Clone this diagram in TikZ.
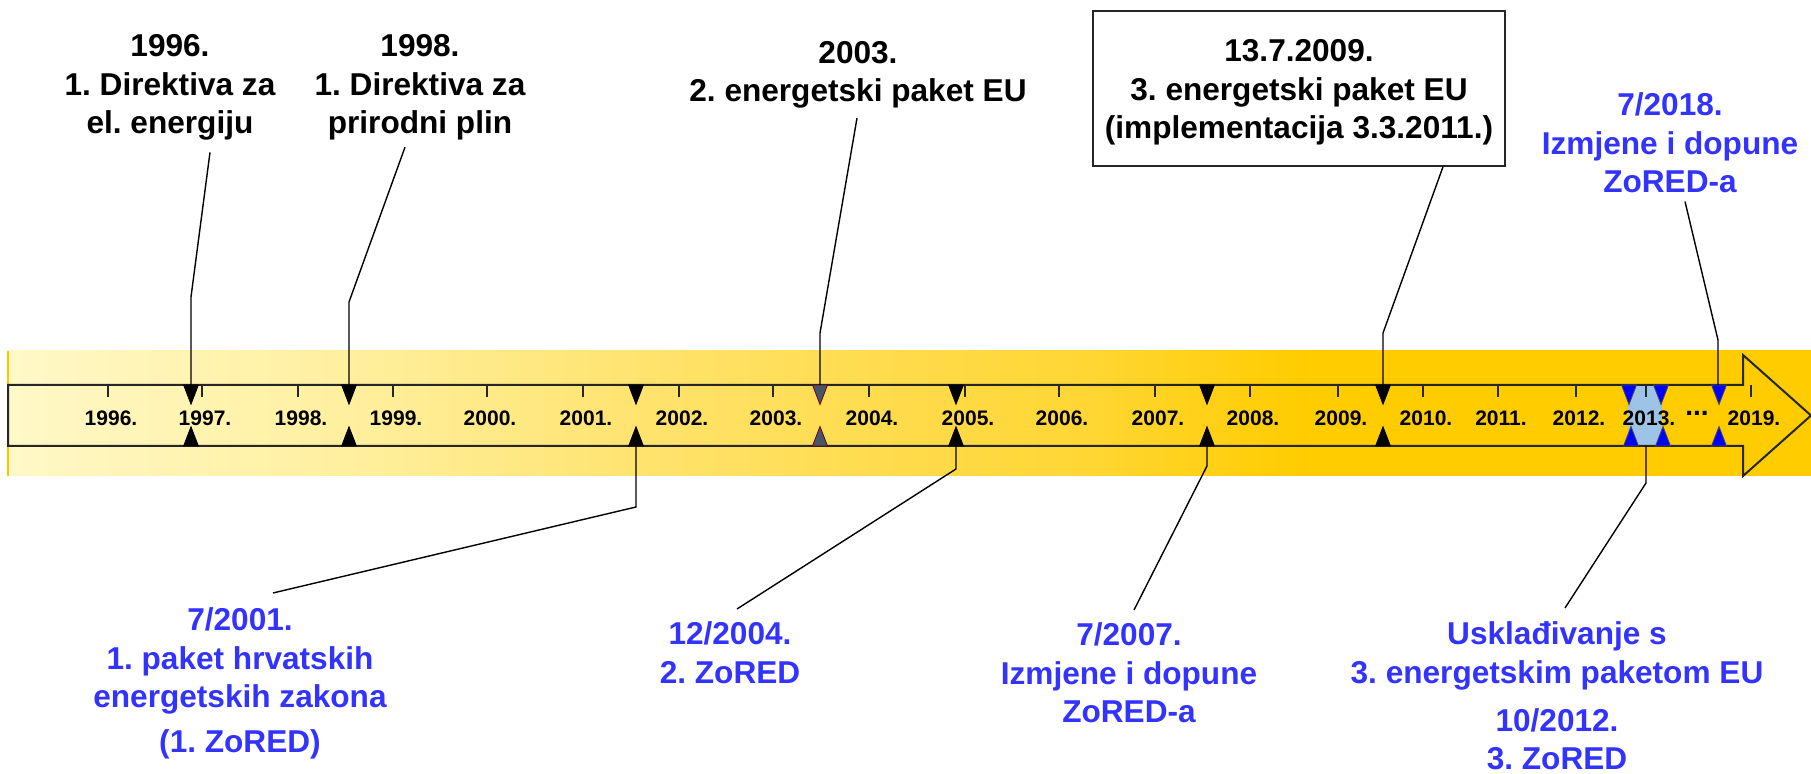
\documentclass[tikz,border=0pt]{standalone}
\usepackage{fontspec}
\setmainfont{Liberation Sans}
\frenchspacing
\usetikzlibrary{calc}
\definecolor{tblue}{HTML}{3333FF}
\definecolor{mblue}{HTML}{0000FF}
\definecolor{slate}{HTML}{46566B}
\definecolor{lblue}{HTML}{9DC3E6}
\definecolor{bz}{HTML}{FFF8C8}
\definecolor{ba}{HTML}{FFEF9C}
\definecolor{bb}{HTML}{FFE166}
\definecolor{bc}{HTML}{FFD633}
\definecolor{bd}{HTML}{FFCC00}
\pgfdeclarehorizontalshading{bandshade}{100bp}{color(0bp)=(bz); color(25bp)=(bz); color(35bp)=(ba); color(44bp)=(bb); color(55bp)=(bc); color(61bp)=(bd); color(75bp)=(bd); color(100bp)=(bd)}
\tikzset{
  big/.style={font=\bfseries\fontsize{15.8}{19.25}\selectfont\frenchspacing, align=center, inner sep=0pt, anchor=north},
  blk/.style={big, text=black},
  blu/.style={big, text=tblue},
  yr/.style={font=\bfseries\fontsize{10.5}{12}\selectfont, inner sep=0pt, text=black},
  conn/.style={line width=0.7pt, black},
  yeartick/.style={line width=0.7pt, black!85},
  outline/.style={line width=1pt, black!85, line join=miter},
  tdown/.pic={\path[pic actions] (-7.5,0) -- (7.5,0) -- (0,19.5) -- cycle;},
  tup/.pic={\path[pic actions] (-7.5,0) -- (7.5,0) -- (0,-19.5) -- cycle;},
  mblack/.style={fill=black, draw=black, line width=0.3pt},
  mslate/.style={fill=slate, draw=red!45!black, line width=0.4pt},
  mblu/.style={fill=mblue, draw=black!70, line width=0.4pt},
}
\begin{document}
\begin{tikzpicture}[x=0.5pt, y=-0.5pt]
\useasboundingbox (0,0) rectangle (1811,774);
% band
\shade[shading=bandshade] (8,351) rectangle (1811,476);
\draw[line width=1pt, color=bd!90!orange] (8,351) -- (8,476);
% highlighted 2013 region
\fill[lblue] (1628,385) rectangle (1662,446);
% arrow
\draw[outline] (8,385) -- (1743,385) -- (1743,355) -- (1811,415.5) -- (1743,476) -- (1743,446) -- (8,446) -- cycle;
% ticks and year labels
\foreach \x/\yy in {108/1996,202/1997,298/1998,393/1999,487/2000,583/2001,679/2002,773/2003,869/2004,965/2005,1059/2006,1155/2007,1250/2008,1338/2009,1423/2010,1498/2011,1576/2012,1646/2013,1751/2019}{
  \draw[yeartick] (\x,385) -- (\x,397);
  \node[yr] (y\yy) at (\x+3,418) {\yy.};
}
\node[font=\bfseries\fontsize{14}{15}\selectfont, inner sep=0pt] (dots) at (1697,413) {...};
% markers
\foreach \x in {191,349,636,956,1207,1383}{
  \pic[mblack] at (\x,385) {tdown};
  \pic[mblack] at (\x,446) {tup};
}
\pic[mslate] at (820,385) {tdown};
\pic[mslate] at (820,446) {tup};
\pic[mblu] at (1629,385) {tdown};
\pic[mblu] at (1661,385) {tdown};
\pic[mblu] at (1719,385) {tdown};
\pic[mblu] at (1631,446) {tup};
\pic[mblu] at (1663,446) {tup};
\pic[mblu] at (1719,446) {tup};
% marker anchor points
\coordinate (m97) at (191,385);
\coordinate (m98) at (349,385);
\coordinate (m03) at (820,385);
\coordinate (m09) at (1383,385);
\coordinate (m18) at (1718,385);
\coordinate (m01) at (636,446);
\coordinate (m05) at (956,446);
\coordinate (m07) at (1207,446);
\coordinate (m13) at (1646,446);
% top texts
\node[blk] (t96) at (170,34.4) {1996.\\1. Direktiva za\\el. energiju};
\node[blk] (t98) at (420,34.4) {1998.\\1. Direktiva za\\prirodni plin};
\node[blk] (t03) at (858,41) {2003.\\2. energetski paket EU};
\node[draw, line width=0.8pt, black!85, minimum width=206pt, minimum height=77.5pt, inner sep=0pt] (frame) at (1299,88.5) {};
\node[blk] (t09) at (1299,39.5) {13.7.2009.\\3. energetski paket EU\\(implementacija 3.3.2011.)};
\node[blu] (t18) at (1670,92.5) {7/2018.\\Izmjene i dopune\\ZoRED-a};
% bottom texts
\node[blu] (t01) at (240,607.5) {7/2001.\\1. paket hrvatskih\\energetskih zakona\\[3pt](1. ZoRED)};
\node[blu] (t04) at (730,621.5) {12/2004.\\2. ZoRED};
\node[blu] (t07) at (1129,622.5) {7/2007.\\Izmjene i dopune\\ZoRED-a};
\node[blu] (t13) at (1557,621.5) {Usklađivanje s\\3. energetskim paketom EU};
\node[blu] (t12) at (1557,708) {10/2012.\\3. ZoRED};
% connectors
\draw[conn] ($(t96.south)+(40,11.4)$) -- (191,297) -- (m97);
\draw[conn] ($(t98.south)+(-15,6.4)$) -- (349,302) -- (m98);
\draw[conn] ($(t03.south)+(-1,9)$) -- (820,333) -- (m03);
\draw[conn] ($(frame.south)+(144,0)$) -- (1383,333) -- (m09);
\draw[conn] ($(t18.south)+(15,8)$) -- (1718,340) -- (m18);
\draw[conn] ($(t01.north)+(33,-14.5)$) -- (636,507) -- (m01);
\draw[conn] ($(t04.north)+(7,-12.5)$) -- (956,469) -- (m05);
\draw[conn] ($(t07.north)+(5,-12.5)$) -- (1207,466) -- (m07);
\draw[conn] ($(t13.north)+(8,-13.5)$) -- (1646,483) -- (m13);
\end{tikzpicture}
\end{document}
